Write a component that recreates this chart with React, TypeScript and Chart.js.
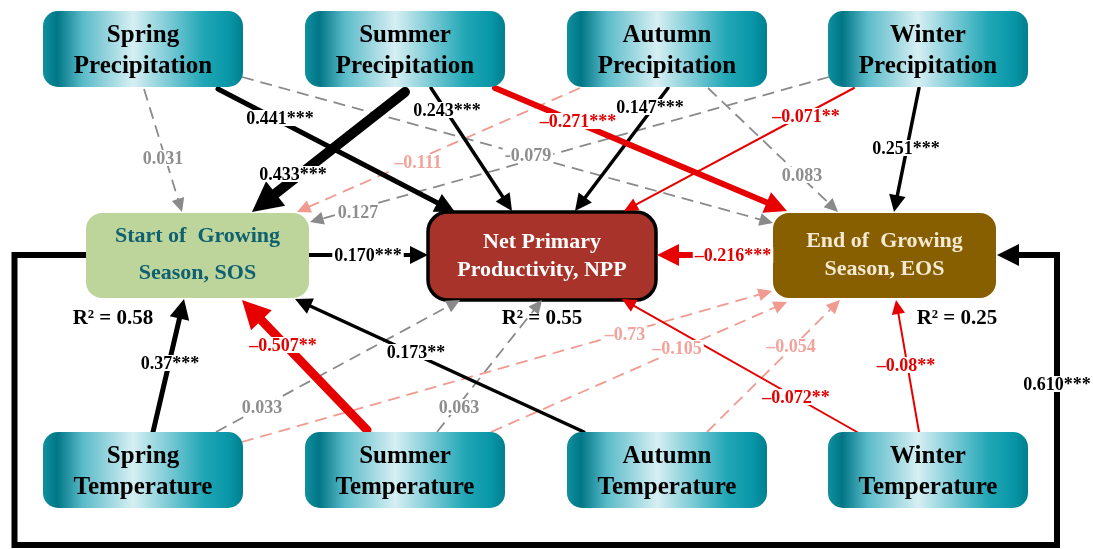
import React, { useEffect, useRef } from 'react';
import { Chart, registerables } from 'chart.js';
Chart.register(...registerables);

// ---------------- data ----------------
const nodeIds = ['SP', 'SuP', 'AP', 'WP', 'SOS', 'NPP', 'EOS', 'ST', 'SuT', 'AT', 'WT'];
const nodeLabels = [
  ['Spring', 'Precipitation'],
  ['Summer', 'Precipitation'],
  ['Autumn', 'Precipitation'],
  ['Winter', 'Precipitation'],
  ['Start of  Growing', 'Season, SOS'],
  ['Net Primary', 'Productivity, NPP'],
  ['End of  Growing', 'Season, EOS'],
  ['Spring', 'Temperature'],
  ['Summer', 'Temperature'],
  ['Autumn', 'Temperature'],
  ['Winter', 'Temperature'],
];
const r2Nodes = ['SOS', 'NPP', 'EOS'];
const r2Values = ['0.58', '0.55', '0.25'];

const pathFrom = ['SP', 'SP', 'SP', 'SuP', 'SuP', 'SuP', 'AP', 'AP', 'AP', 'WP', 'WP', 'WP', 'SOS', 'EOS', 'ST', 'ST', 'ST', 'SuT', 'SuT', 'SuT', 'AT', 'AT', 'WT', 'WT', 'SOS'];
const pathTo = ['NPP', 'SOS', 'EOS', 'SOS', 'NPP', 'EOS', 'SOS', 'NPP', 'EOS', 'SOS', 'NPP', 'EOS', 'NPP', 'NPP', 'SOS', 'NPP', 'EOS', 'SOS', 'NPP', 'EOS', 'SOS', 'EOS', 'NPP', 'EOS', 'EOS'];
const pathCoefficients = ['0.441', '0.031', '-0.079', '0.433', '0.243', '–0.271', '–0.111', '0.147', '0.083', '0.127', '–0.071', '0.251', '0.170', '–0.216', '0.37', '0.033', '–0.73', '–0.507', '0.063', '–0.105', '0.173', '–0.054', '–0.072', '–0.08', '0.610'];
const pathStars = ['***', '', '', '***', '***', '***', '', '***', '', '', '**', '***', '***', '***', '***', '', '', '**', '', '', '**', '', '**', '**', '***'];

// ---------------- layout & style ----------------
const nodeBoxes: Record<string, number[]> = {
  SP: [43, 11, 200, 76], SuP: [305, 11, 200, 76], AP: [567, 11, 200, 76], WP: [828, 11, 200, 76],
  SOS: [86, 213, 223, 85], NPP: [428, 212, 228, 88], EOS: [773, 213, 223, 85],
  ST: [43, 432, 200, 76], SuT: [305, 432, 200, 76], AT: [567, 432, 200, 76], WT: [828, 432, 200, 76],
};
const pathRoutes = [
  [[218, 89], [455, 212]],
  [[144, 89], [182, 212]],
  [[242, 77], [773, 223]],
  [[405, 92], [252, 212]],
  [[431, 88], [512, 211]],
  [[495, 88], [787, 211]],
  [[580, 88], [297, 212]],
  [[668, 88], [575, 211]],
  [[708, 88], [838, 212]],
  [[829, 77], [310, 222]],
  [[854, 88], [624, 211]],
  [[919, 88], [894, 212]],
  [[309, 255], [428, 255]],
  [[773, 255], [657, 255]],
  [[153, 432], [184, 299]],
  [[216, 432], [460, 300]],
  [[242, 442], [772, 291]],
  [[367, 430], [242, 300]],
  [[437, 432], [542, 300]],
  [[491, 432], [787, 302]],
  [[584, 432], [295, 299]],
  [[707, 432], [840, 300]],
  [[857, 432], [622, 299]],
  [[919, 432], [896, 300]],
  [[86, 255], [14.5, 255], [14.5, 545], [1057, 545], [1057, 255], [997, 255]],
];
const labelPos = [
  [280, 118], [163, 158], [528, 155], [293, 174], [447, 110], [578, 121], [418, 162], [650, 107],
  [802, 175], [358, 212], [806, 116], [906, 148], [368, 255], [733, 255], [170, 363], [262, 407],
  [625, 334], [283, 345], [459, 407], [677, 348], [416, 352], [791, 346], [796, 397], [906, 365],
  [1057, 384],
];
const pathStyle = ['k', 'g', 'g', 'k', 'k', 'r', 's', 'k', 'g', 'g', 'r', 'k', 'k', 'r', 'k', 'g', 's', 'r', 'g', 's', 'k', 's', 'r', 'r', 'k'];
const pathWidth = [5, 1.8, 1.8, 10, 3.5, 6, 1.8, 3.5, 1.8, 1.8, 2, 3.5, 4, 6, 5, 1.8, 1.8, 9, 1.8, 1.8, 3.5, 1.8, 2, 2, 6];
const lineColors: Record<string, string> = { k: '#000000', r: '#E60000', g: '#8A8A8A', s: '#F19A90' };
const textColors: Record<string, string> = { k: '#000000', r: '#E30000', g: '#8E8E8E', s: '#F2A39B' };
const SERIF = '"Liberation Serif", "Times New Roman", serif';

const headSize = (w: number) => ({ L: 10 + 2 * w, W: 9 + 2.2 * w });

function roundRect(ctx: CanvasRenderingContext2D, x: number, y: number, w: number, h: number, r: number) {
  ctx.beginPath();
  ctx.moveTo(x + r, y);
  ctx.lineTo(x + w - r, y);
  ctx.arcTo(x + w, y, x + w, y + r, r);
  ctx.lineTo(x + w, y + h - r);
  ctx.arcTo(x + w, y + h, x + w - r, y + h, r);
  ctx.lineTo(x + r, y + h);
  ctx.arcTo(x, y + h, x, y + h - r, r);
  ctx.lineTo(x, y + r);
  ctx.arcTo(x, y, x + r, y, r);
  ctx.closePath();
}

const diagramPlugin = {
  id: 'pathDiagram',
  afterDatasetsDraw(chart: any) {
    const ctx: CanvasRenderingContext2D = chart.ctx;
    const sx = chart.scales.x;
    const sy = chart.scales.y;
    const px = (v: number) => sx.getPixelForValue(v);
    const py = (v: number) => sy.getPixelForValue(v);

    // boxes
    nodeIds.forEach((id, i) => {
      const b = nodeBoxes[id];
      const x = px(b[0]), y = py(b[1]);
      const w = px(b[0] + b[2]) - x, h = py(b[1] + b[3]) - y;
      ctx.save();
      let textColor = '#000';
      let font = `bold 25px ${SERIF}`;
      let base = [31, 62];
      if (id === 'SOS') {
        roundRect(ctx, x, y, w, h, 16);
        ctx.fillStyle = '#BDD59B';
        ctx.fill();
        textColor = '#0F6070';
        font = `bold 22px ${SERIF}`;
        base = [29, 66];
      } else if (id === 'NPP') {
        roundRect(ctx, x, y, w, h, 20);
        ctx.fillStyle = '#A8332A';
        ctx.fill();
        ctx.lineWidth = 3.5;
        ctx.strokeStyle = '#000';
        ctx.stroke();
        textColor = '#FFFFFF';
        font = `bold 22px ${SERIF}`;
        base = [36, 64];
      } else if (id === 'EOS') {
        roundRect(ctx, x, y, w, h, 16);
        ctx.fillStyle = '#875F00';
        ctx.fill();
        textColor = '#F4EAD2';
        font = `bold 22px ${SERIF}`;
        base = [34, 62];
      } else {
        const g = ctx.createLinearGradient(x, 0, x + w, 0);
        g.addColorStop(0, '#10909F');
        g.addColorStop(0.07, '#007686');
        g.addColorStop(0.2, '#5BBBC9');
        g.addColorStop(0.45, '#D6EFF3');
        g.addColorStop(0.62, '#7FCCD7');
        g.addColorStop(0.8, '#21A7B6');
        g.addColorStop(0.93, '#0896A7');
        g.addColorStop(1, '#007F8F');
        roundRect(ctx, x, y, w, h, 15);
        ctx.fillStyle = g;
        ctx.fill();
      }
      ctx.fillStyle = textColor;
      ctx.font = font;
      ctx.textAlign = 'center';
      ctx.textBaseline = 'alphabetic';
      const lines = nodeLabels[i];
      ctx.fillText(lines[0], x + w / 2, y + base[0]);
      ctx.fillText(lines[1], x + w / 2, y + base[1]);
      ctx.restore();
    });

    // arrowheads
    pathRoutes.forEach((route, i) => {
      const n = route.length;
      const a = route[n - 2], b = route[n - 1];
      const x1 = px(a[0]), y1 = py(a[1]), x2 = px(b[0]), y2 = py(b[1]);
      const { L, W } = headSize(pathWidth[i]);
      const ang = Math.atan2(y2 - y1, x2 - x1);
      ctx.save();
      ctx.translate(x2, y2);
      ctx.rotate(ang);
      ctx.beginPath();
      ctx.moveTo(0, 0);
      ctx.lineTo(-L, W / 2);
      ctx.lineTo(-L, -W / 2);
      ctx.closePath();
      ctx.fillStyle = lineColors[pathStyle[i]];
      ctx.fill();
      ctx.restore();
    });

    // coefficient labels
    ctx.save();
    ctx.font = `bold 18px ${SERIF}`;
    ctx.textAlign = 'center';
    ctx.textBaseline = 'middle';
    pathCoefficients.forEach((c, i) => {
      const text = c + pathStars[i];
      const lx = px(labelPos[i][0]), ly = py(labelPos[i][1]);
      const tw = ctx.measureText(text).width;
      ctx.fillStyle = '#FFFFFF';
      ctx.fillRect(lx - tw / 2 - 2, ly - 8, tw + 4, 16);
      ctx.fillStyle = textColors[pathStyle[i]];
      ctx.fillText(text, lx, ly + 1);
    });
    ctx.restore();

    // R² labels
    ctx.save();
    ctx.font = `bold 21px ${SERIF}`;
    ctx.textAlign = 'center';
    ctx.textBaseline = 'alphabetic';
    ctx.fillStyle = '#000';
    const r2Pos: Record<string, number[]> = { SOS: [113, 324], NPP: [542, 324], EOS: [957, 324] };
    r2Nodes.forEach((id, i) => {
      const p = r2Pos[id];
      ctx.fillText(`R² = ${r2Values[i]}`, px(p[0]), py(p[1]));
    });
    ctx.restore();
  },
};

export default function App() {
  const ref = useRef<HTMLCanvasElement>(null);
  useEffect(() => {
    const canvas = ref.current;
    if (!canvas) return;
    const datasets = pathRoutes.map((route, i) => {
      const st = pathStyle[i];
      const dashed = st === 'g' || st === 's';
      const w = pathWidth[i];
      const { L } = headSize(w);
      const pts = route.map((p) => ({ x: p[0], y: p[1] }));
      const n = pts.length;
      const a = pts[n - 2], b = pts[n - 1];
      const dx = b.x - a.x, dy = b.y - a.y;
      const len = Math.hypot(dx, dy);
      pts[n - 1] = { x: b.x - (dx / len) * L * 0.7, y: b.y - (dy / len) * L * 0.7 };
      return {
        label: `${pathFrom[i]}→${pathTo[i]}`,
        type: 'line' as const,
        data: pts,
        showLine: true,
        borderColor: lineColors[st],
        backgroundColor: lineColors[st],
        borderWidth: w,
        borderDash: dashed ? [12, 7] : [],
        borderCapStyle: (dashed ? 'butt' : 'round') as CanvasLineCap,
        borderJoinStyle: 'miter' as CanvasLineJoin,
        pointRadius: 0,
        pointHoverRadius: 0,
        fill: false,
        tension: 0,
        order: dashed ? 2 : 1,
        clip: false as any,
      };
    });
    const chart = new Chart(canvas, {
      type: 'scatter',
      data: { datasets: datasets as any },
      options: {
        animation: false,
        responsive: false,
        maintainAspectRatio: false,
        devicePixelRatio: 1,
        events: [],
        layout: { padding: 0 },
        plugins: { legend: { display: false }, tooltip: { enabled: false } },
        scales: {
          x: { type: 'linear', min: 0, max: 1093, display: false },
          y: { type: 'linear', min: 0, max: 549, reverse: true, display: false },
        },
      },
      plugins: [diagramPlugin],
    });
    return () => chart.destroy();
  }, []);
  return (
    <div style={{ position: 'absolute', left: 0, top: 0, width: 1093, height: 549, background: '#fff' }}>
      <canvas ref={ref} width={1093} height={549} style={{ display: 'block' }} />
    </div>
  );
}
